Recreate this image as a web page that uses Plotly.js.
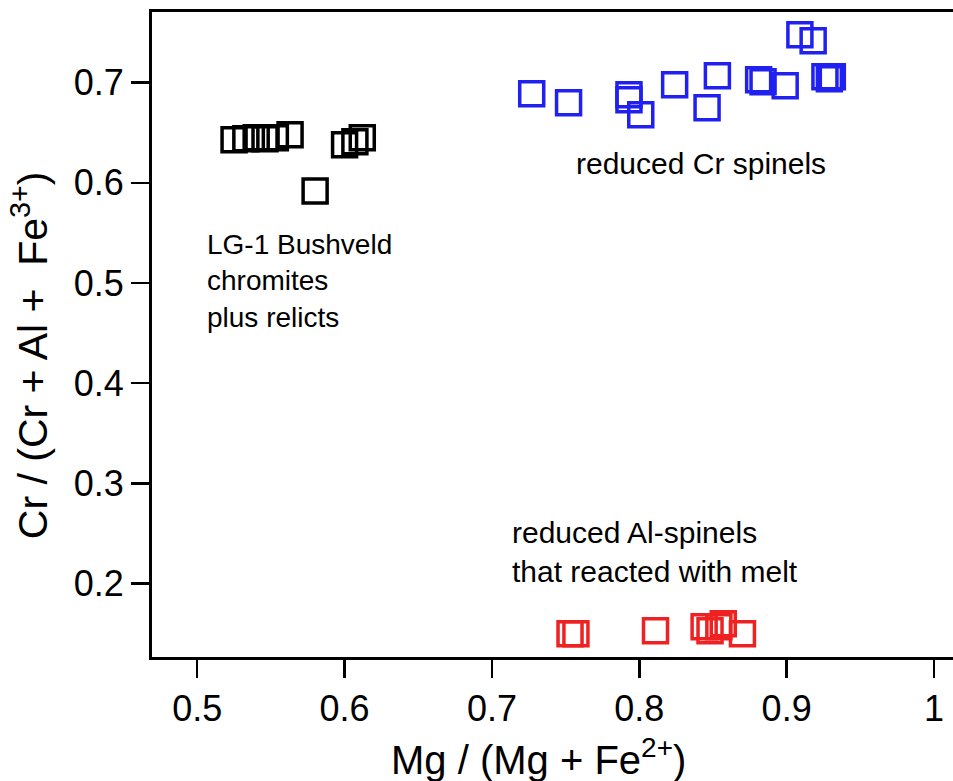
<!DOCTYPE html>
<html>
<head>
<meta charset="utf-8">
<script src="https://cdn.plot.ly/plotly-3.0.1.min.js"></script>
<style>html,body{margin:0;padding:0;background:#fff;}#chart{width:953px;height:781px;}</style>
</head>
<body>
<div id="chart"></div>
<script>
// LG-1 Bushveld chromites plus relicts (black)
const bushveldX = [0.525, 0.533, 0.540, 0.546, 0.553, 0.563, 0.600, 0.607, 0.612, 0.580];
const bushveldY = [0.643, 0.644, 0.645, 0.644, 0.645, 0.648, 0.638, 0.641, 0.645, 0.592];

// reduced Cr spinels (blue)
const crSpinelX = [0.727, 0.752, 0.793, 0.793, 0.801, 0.824, 0.853, 0.846, 0.881, 0.884, 0.899, 0.909, 0.918, 0.926, 0.929, 0.931];
const crSpinelY = [0.689, 0.680, 0.688, 0.683, 0.668, 0.698, 0.707, 0.675, 0.703, 0.701, 0.697, 0.748, 0.742, 0.706, 0.704, 0.706];

// reduced Al-spinels that reacted with melt (red)
const alSpinelX = [0.753, 0.757, 0.811, 0.844, 0.848, 0.854, 0.857, 0.870];
const alSpinelY = [0.150, 0.150, 0.153, 0.157, 0.153, 0.157, 0.160, 0.150];

const xTicks = [0.5, 0.6, 0.7, 0.8, 0.9, 1.0];
const xTickText = ['0.5', '0.6', '0.7', '0.8', '0.9', '1'];
const yTicks = [0.2, 0.3, 0.4, 0.5, 0.6, 0.7];

const xTitle = 'Mg / (Mg + Fe<sup>2+</sup>)';
const yTitle = 'Cr / (Cr + Al +  Fe<sup>3+</sup>)';

const FONT = 'Liberation Sans, Arial, Helvetica, sans-serif';

function series(x, y, color) {
  return {
    type: 'scatter', mode: 'markers', x: x, y: y,
    marker: { symbol: 'square-open', size: 24, color: color, line: { width: 3.5, color: color } },
    hoverinfo: 'x+y', showlegend: false
  };
}

const data = [
  series(bushveldX, bushveldY, '#000000'),
  series(crSpinelX, crSpinelY, '#2020f0'),
  series(alSpinelX, alSpinelY, '#ee2222')
];

const layout = {
  width: 953, height: 781,
  margin: { l: 152, r: 0, t: 12, b: 124 },
  paper_bgcolor: '#ffffff', plot_bgcolor: '#ffffff',
  font: { family: FONT, color: '#000' },
  showlegend: false,
  xaxis: {
    range: [0.4693, 1.0129],
    tickvals: xTicks, ticktext: xTickText,
    ticks: 'outside', ticklen: 18, tickwidth: 2.5, tickcolor: '#000',
    showline: true, linewidth: 3, linecolor: '#000', mirror: true,
    showgrid: false, zeroline: false,
    tickfont: { size: 36, family: FONT, color: '#000' }
  },
  yaxis: {
    range: [0.1267, 0.7706],
    tickvals: yTicks,
    ticks: 'outside', ticklen: 18, tickwidth: 2.5, tickcolor: '#000',
    showline: true, linewidth: 3, linecolor: '#000', mirror: false,
    showgrid: false, zeroline: false,
    tickfont: { size: 36, family: FONT, color: '#000' }
  },
  annotations: [
    { x: 0.482, y: -0.155, xref: 'paper', yref: 'paper', xanchor: 'center', yanchor: 'middle', showarrow: false,
      text: xTitle, font: { size: 40, family: FONT, color: '#000' } },
    { x: -0.1523, y: 0.468, xref: 'paper', yref: 'paper', xanchor: 'center', yanchor: 'middle', showarrow: false,
      textangle: -90, text: yTitle, font: { size: 41, family: FONT, color: '#000' } },
    { x: 0.505, y: 0.5024, xref: 'x', yref: 'y', xanchor: 'left', yanchor: 'middle', align: 'left', showarrow: false,
      text: 'LG-1 Bushveld<br>chromites<br>plus relicts', font: { size: 28, family: FONT, color: '#000' } },
    { x: 0.756, y: 0.6198, xref: 'x', yref: 'y', xanchor: 'left', yanchor: 'middle', align: 'left', showarrow: false,
      text: 'reduced Cr spinels', font: { size: 30, family: FONT, color: '#000' } },
    { x: 0.7125, y: 0.2313, xref: 'x', yref: 'y', xanchor: 'left', yanchor: 'middle', align: 'left', showarrow: false,
      text: 'reduced Al-spinels<br>that reacted with melt', font: { size: 30, family: FONT, color: '#000' } }
  ]
};

Plotly.newPlot('chart', data, layout, { displayModeBar: false, staticPlot: true });
</script>
</body>
</html>
